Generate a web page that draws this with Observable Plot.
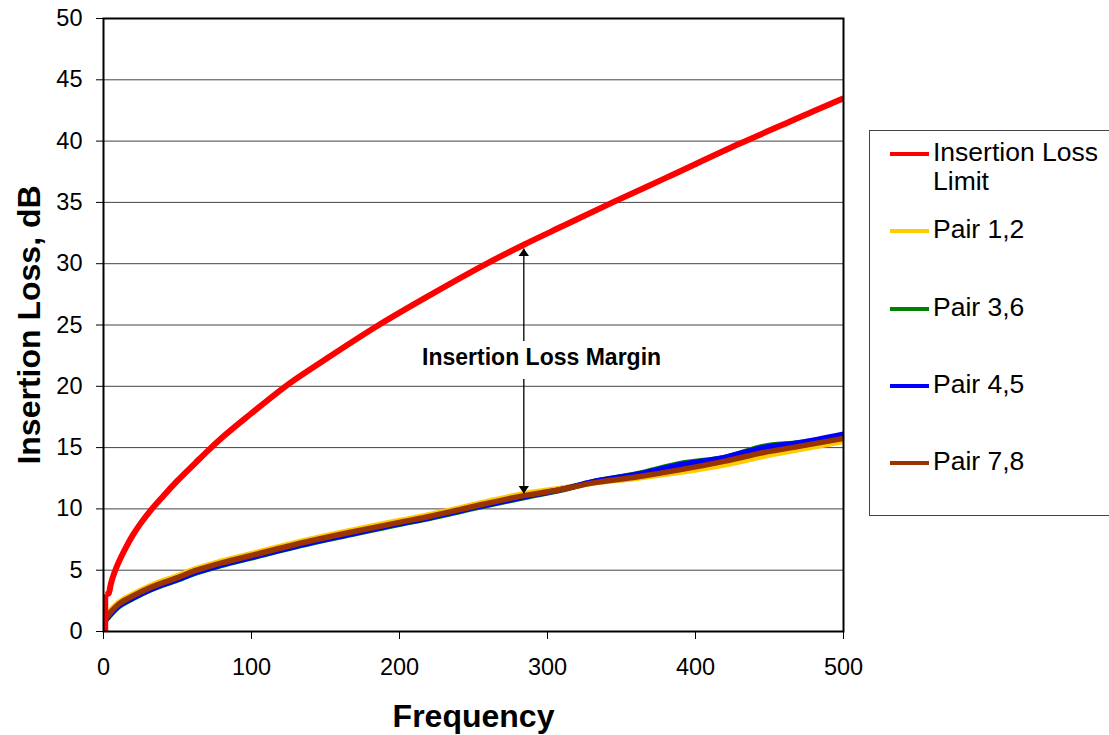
<!DOCTYPE html>
<html>
<head>
<meta charset="utf-8">
<script src="https://cdn.jsdelivr.net/npm/d3@7"></script>
<script src="https://cdn.jsdelivr.net/npm/@observablehq/plot@0.6"></script>
<style>
  html, body { margin: 0; padding: 0; background: #fff; }
  #wrap { position: relative; width: 1109px; height: 735px; overflow: hidden; font-family: "Liberation Sans", Arial, sans-serif; }
  #legend { position: absolute; left: 869px; top: 130px; width: 300px; height: 386px; border: 1.5px solid #444; box-sizing: border-box; background: #fff; }
  .item { position: absolute; left: 20px; display: flex; align-items: flex-start; font-size: 26.5px; line-height: 28.5px; color: #000; }
  .swatch { width: 39px; height: 4px; margin-right: 4px; flex: none; }
</style>
</head>
<body>
<div id="wrap">
  <div id="chart"></div>
  <div id="legend"></div>
</div>
<script>
// Insertion loss limit (dB) against frequency; the first point is where the limit steps up from 0
const limitFreq = [1.5, 3.5, 5, 8, 12, 16, 20, 25, 32, 40, 50, 62.5, 71, 80, 100, 123, 150, 186, 220, 258, 284, 310, 344, 380, 430, 465, 500];
const limitLoss = [3.0, 3.1, 3.9, 5.0, 6.1, 7.05, 7.9, 8.8, 9.9, 11.0, 12.3, 13.8, 14.8, 15.8, 17.8, 20.0, 22.2, 25.0, 27.4, 29.95, 31.55, 33.05, 35.0, 37.0, 39.8, 41.65, 43.5];

// Measured insertion loss per pair (dB)
const frequency = [0, 1, 5, 10, 20, 32, 50, 63, 80, 100, 133, 167, 200, 221, 250, 285, 310, 330, 360, 390, 420, 446, 470, 500];
const pair12 = [1.0, 1.1, 1.75, 2.35, 3.05, 3.75, 4.55, 5.15, 5.75, 6.35, 7.35, 8.25, 9.05, 9.55, 10.35, 11.25, 11.7, 12.1, 12.5, 13.0, 13.6, 14.3, 14.85, 15.5];
const pair36 = [0.75, 0.85, 1.4, 2.0, 2.7, 3.4, 4.2, 4.8, 5.4, 6.0, 7.0, 7.9, 8.75, 9.25, 10.05, 10.95, 11.55, 12.2, 12.85, 13.7, 14.2, 15.1, 15.4, 16.0];
const pair45 = [0.8, 0.9, 1.45, 2.05, 2.75, 3.45, 4.25, 4.85, 5.45, 6.05, 7.05, 7.95, 8.8, 9.3, 10.1, 11.0, 11.6, 12.2, 12.8, 13.6, 14.2, 15.0, 15.4, 16.1];
const pair78 = [0.9, 1.0, 1.6, 2.2, 2.9, 3.6, 4.4, 5.0, 5.6, 6.2, 7.2, 8.1, 8.9, 9.4, 10.2, 11.1, 11.6, 12.1, 12.6, 13.2, 13.9, 14.6, 15.1, 15.75];

const seriesNames = ["Insertion Loss Limit", "Pair 1,2", "Pair 3,6", "Pair 4,5", "Pair 7,8"];
const seriesColors = ["#ff0000", "#ffcc00", "#008000", "#0000ff", "#993300"];

const xTicks = [0, 100, 200, 300, 400, 500];
const yTicks = [0, 5, 10, 15, 20, 25, 30, 35, 40, 45, 50];

// Margin annotation: label and the two arrows between limit and measured curves
const marginLabel = "Insertion Loss Margin";
const marginFreq = 284;
const labelPos = {x: 296, y: 22.3};
const arrows = [
  {x1: marginFreq, y1: 23.7, x2: marginFreq, y2: 31.25},
  {x1: marginFreq, y1: 20.6, x2: marginFreq, y2: 11.25}
];

const limitRows = limitFreq.map((f, i) => ({f, v: limitLoss[i]}));
const pairRows = [pair12, pair36, pair45, pair78].map(vals => frequency.map((f, i) => ({f, v: vals[i]})));

const lineOpts = {x: "f", y: "v", strokeWidth: 5.5, strokeLinecap: "butt", curve: "monotone-x", clip: true};

const chart = Plot.plot({
  width: 1109,
  height: 735,
  marginLeft: 103,
  marginRight: 266,
  marginTop: 18,
  marginBottom: 104,
  style: {fontFamily: "Liberation Sans, Arial, sans-serif", fontSize: "23.5px", background: "white", overflow: "visible", color: "#000"},
  x: {domain: [0, 500], ticks: xTicks, tickSize: 8, tickPadding: 19, label: null, tickFormat: d => String(d)},
  y: {domain: [0, 50], ticks: yTicks, tickSize: 7, tickPadding: 14, label: null, tickFormat: d => String(d)},
  marks: [
    Plot.ruleY(yTicks.filter(t => t > 0 && t < 50), {stroke: "#444", strokeWidth: 1}),
    Plot.line(pairRows[0], {...lineOpts, stroke: seriesColors[1]}),
    Plot.line(pairRows[1], {...lineOpts, stroke: seriesColors[2]}),
    Plot.line(pairRows[2], {...lineOpts, stroke: seriesColors[3]}),
    Plot.line(pairRows[3], {...lineOpts, stroke: seriesColors[4]}),
    // vertical step of the limit from 0 up to its first value
    Plot.ruleX([limitRows[0]], {x: "f", y1: 0, y2: "v", stroke: seriesColors[0], strokeWidth: 5}),
    Plot.line(limitRows, {...lineOpts, strokeWidth: 6, stroke: seriesColors[0]}),
    Plot.link(arrows, {x1: "x1", y1: "y1", x2: "x2", y2: "y2", stroke: "#000", strokeWidth: 1.3, className: "margin-arrow"}),
    Plot.text([marginLabel], {x: labelPos.x, y: labelPos.y, text: d => d, fontSize: 23, fontWeight: "bold", fill: "#000"}),
    Plot.frame({stroke: "#000", strokeWidth: 2}),
    Plot.text(["Insertion Loss, dB"], {frameAnchor: "left", dx: -74, rotate: -90, textAnchor: "middle", lineAnchor: "middle", text: d => d, fontSize: 32, fontWeight: "bold", fill: "#000"}),
    Plot.text(["Frequency"], {frameAnchor: "bottom", dy: 85, textAnchor: "middle", lineAnchor: "middle", text: d => d, fontSize: 32, fontWeight: "bold", fill: "#000"})
  ]
});

// Filled triangular arrowheads for the margin arrows
const svg = d3.select(chart);
svg.insert("defs", ":first-child")
  .append("marker")
  .attr("id", "tri-head")
  .attr("viewBox", "0 -5.5 8 11")
  .attr("refX", 8).attr("refY", 0)
  .attr("markerUnits", "userSpaceOnUse")
  .attr("markerWidth", 8).attr("markerHeight", 11)
  .attr("orient", "auto")
  .append("path").attr("d", "M0,-5.5L8,0L0,5.5Z").attr("fill", "#000");
svg.selectAll(".margin-arrow path").attr("marker-end", "url(#tri-head)");

document.getElementById("chart").appendChild(chart);

// Legend box
const legendTops = [137, 214, 292, 369, 446];
const legend = d3.select("#legend");
seriesNames.forEach((name, i) => {
  const item = legend.append("div").attr("class", "item").style("top", (legendTops[i] - 130) + "px");
  item.append("div").attr("class", "swatch").style("background", seriesColors[i]).style("margin-top", "14px");
  item.append("div").html(i === 0 ? "Insertion Loss<br>Limit" : name);
});
</script>
</body>
</html>
